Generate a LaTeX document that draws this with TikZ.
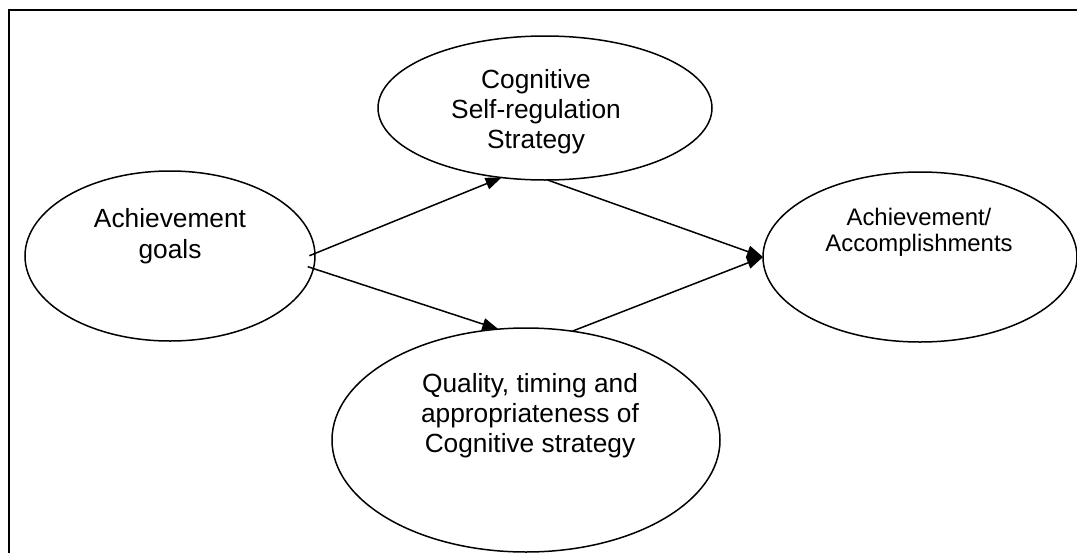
\documentclass[tikz,border=0pt]{standalone}
\usepackage{fontspec}
\setmainfont{Liberation Sans}
\usetikzlibrary{arrows.meta,shapes.geometric}
\begin{document}
\begin{tikzpicture}[x=1pt,y=-1pt,
  oval/.style={draw,ellipse,line width=1.5pt,inner sep=0pt,outer sep=0pt},
  txt/.style={anchor=base,inner sep=0pt,font=\fontsize{26.3}{30}\selectfont},
  txts/.style={anchor=base,inner sep=0pt,font=\fontsize{23.9}{26}\selectfont},
  link/.style={line width=1.5pt,-{Triangle[length=16pt,width=12pt]}},
  frameline/.style={line width=2.5pt}]
\useasboundingbox (0,0) rectangle (1077,552);
\draw[frameline] (9,553) -- (9,10) -- (1078,10);

% ellipses
\node[oval,minimum width=290pt,minimum height=170pt] (goals) at (170,256) {};
\node[oval,minimum width=334pt,minimum height=144pt] (csr) at (545,108) {};
\node[oval,minimum width=314pt,minimum height=170pt] (acc) at (920,257) {};
\node[oval,minimum width=388pt,minimum height=224pt] (qual) at (526,440) {};

% texts
\node[txt] (goalsA) at (170,227) {Achievement};
\node[txt] (goalsB) at (170,258) {goals};

\node[txt] (csrA) at (536,88) {Cognitive};
\node[txt] (csrB) at (536,118) {Self-regulation};
\node[txt] (csrC) at (536,148) {Strategy};

\node[txts] (accA) at (919,225) {Achievement/};
\node[txts] (accB) at (919,251) {Accomplishments};

\node[txt] (qualA) at (530,392) {Quality, timing and};
\node[txt] (qualB) at (530,422) {appropriateness of};
\node[txt] (qualC) at (530,452) {Cognitive strategy};

% connectors
\draw[link,shorten <=-6pt] (goals.1) -- (csr.238);
\draw[link,shorten <=-6pt] (goals.-5) -- (qual.104);
\draw[link] (csr.272) -- (acc.west);
\draw[link] (qual.67) -- (acc.west);
\end{tikzpicture}
\end{document}
